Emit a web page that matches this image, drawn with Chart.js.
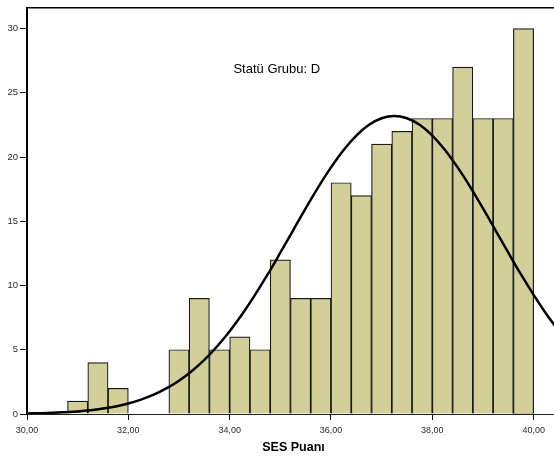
<!DOCTYPE html>
<html>
<head>
<meta charset="utf-8">
<script src="https://cdn.jsdelivr.net/npm/chart.js@4/dist/chart.umd.min.js"></script>
<style>
  html, body { margin:0; padding:0; background:#fff; overflow:hidden; }
  #wrap { width:560px; height:459px; }
</style>
</head>
<body>
<div id="wrap"><canvas id="histChart" width="560" height="459"></canvas></div>
<script>
// bin centres (width 0.4) and counts
const binCenters = [31.0, 31.4, 31.8, 32.2, 32.6, 33.0, 33.4, 33.8, 34.2, 34.6, 35.0, 35.4,
                    35.8, 36.2, 36.6, 37.0, 37.4, 37.8, 38.2, 38.6, 39.0, 39.4, 39.8];
const binCounts  = [1, 4, 2, 0, 0, 5, 9, 5, 6, 5, 12, 9,
                    9, 18, 17, 21, 22, 23, 23, 27, 23, 23, 30];

// normal curve
const curveX = [30.0, 30.25, 30.5, 30.75, 31.0, 31.25, 31.5, 31.75, 32.0, 32.25, 32.5, 32.75,
                33.0, 33.25, 33.5, 33.75, 34.0, 34.25, 34.5, 34.75, 35.0, 35.25, 35.5, 35.75,
                36.0, 36.25, 36.5, 36.75, 37.0, 37.25, 37.5, 37.75, 38.0, 38.25, 38.5, 38.75,
                39.0, 39.25, 39.5, 39.75, 40.0, 40.25, 40.5];
const curveY = [0.04, 0.06, 0.09, 0.14, 0.20, 0.29, 0.42, 0.59, 0.82, 1.12, 1.50, 1.99,
                2.59, 3.33, 4.21, 5.25, 6.44, 7.78, 9.27, 10.86, 12.55, 14.28, 16.0, 17.66,
                19.19, 20.55, 21.67, 22.51, 23.02, 23.2, 23.02, 22.51, 21.67, 20.55, 19.19, 17.66,
                16.0, 14.28, 12.55, 10.86, 9.27, 7.78, 6.44];

const panelLabel = "Statü Grubu: D";
const xTitle = "SES Puanı";

const fmtTr = v => v.toFixed(2).replace(".", ",");

const framePlugin = {
  id:"frame",
  afterDraw(chart) {
    const { ctx, chartArea:a, scales } = chart;
    ctx.save();
    ctx.strokeStyle = "#000";
    ctx.lineWidth = 1.5;
    ctx.beginPath();
    ctx.moveTo(a.left, a.top);
    ctx.lineTo(a.right, a.top);
    ctx.stroke();
    ctx.fillStyle = "#000";
    ctx.font = "13px 'Liberation Sans', Arial, sans-serif";
    ctx.textAlign = "center";
    ctx.textBaseline = "middle";
    ctx.fillText(panelLabel, scales.x.getPixelForValue(34.93), scales.y.getPixelForValue(26.8));
    ctx.restore();
  }
};

Chart.defaults.font.family = "'Liberation Sans', Arial, sans-serif";

new Chart(document.getElementById("histChart"), {
  type:"bar",
  data:{
    datasets:[{
      type:"line",
      data:curveX.map((x,i) => ({ x, y:curveY[i] })),
      borderColor:"#000",
      borderWidth:2.5,
      pointRadius:0,
      tension:0.4,
      fill:false,
      order:0
    },{
      type:"bar",
      data:binCenters.map((x,i) => ({ x, y:binCounts[i] })),
      backgroundColor:"#d3cf9b",
      borderColor:"#1a1a1a",
      borderWidth:1.2,
      barPercentage:1,
      categoryPercentage:1,
      order:1
    }]
  },
  options:{
    responsive:false,
    animation:false,
    layout:{ padding:{ top:5, left:0, right:0, bottom:0 } },
    plugins:{ legend:{ display:false }, tooltip:{ enabled:false } },
    scales:{
      x:{
        type:"linear",
        offset:false,
        min:30,
        max:40.52,
        afterFit(s) { s.height = 45; },
        border:{ color:"#222", width:1 },
        grid:{ offset:false, drawOnChartArea:false, drawTicks:true, tickLength:6, color:"#111" },
        ticks:{
          stepSize:2,
          includeBounds:false,
          color:"#2a2a2a",
          padding:5,
          maxRotation:0,
          font:{ size:9 }, 
          callback:v => fmtTr(v)
        },
        title:{
          display:true,
          text:xTitle,
          color:"#000",
          font:{ size:12.5, weight:"bold" },
          padding:{ top:2, bottom:4 }
        }
      },
      y:{
        min:0,
        max:31.62,
        afterFit(s) { s.width = 27; },
        border:{ color:"#000", width:2 },
        grid:{ drawOnChartArea:false, drawTicks:true, tickLength:7, color:"#111" },
        ticks:{
          stepSize:5,
          includeBounds:false,
          color:"#2a2a2a",
          padding:2,
          font:{ size:9.5 }
        }
      }
    }
  },
  plugins:[framePlugin]
});
</script>
</body>
</html>
